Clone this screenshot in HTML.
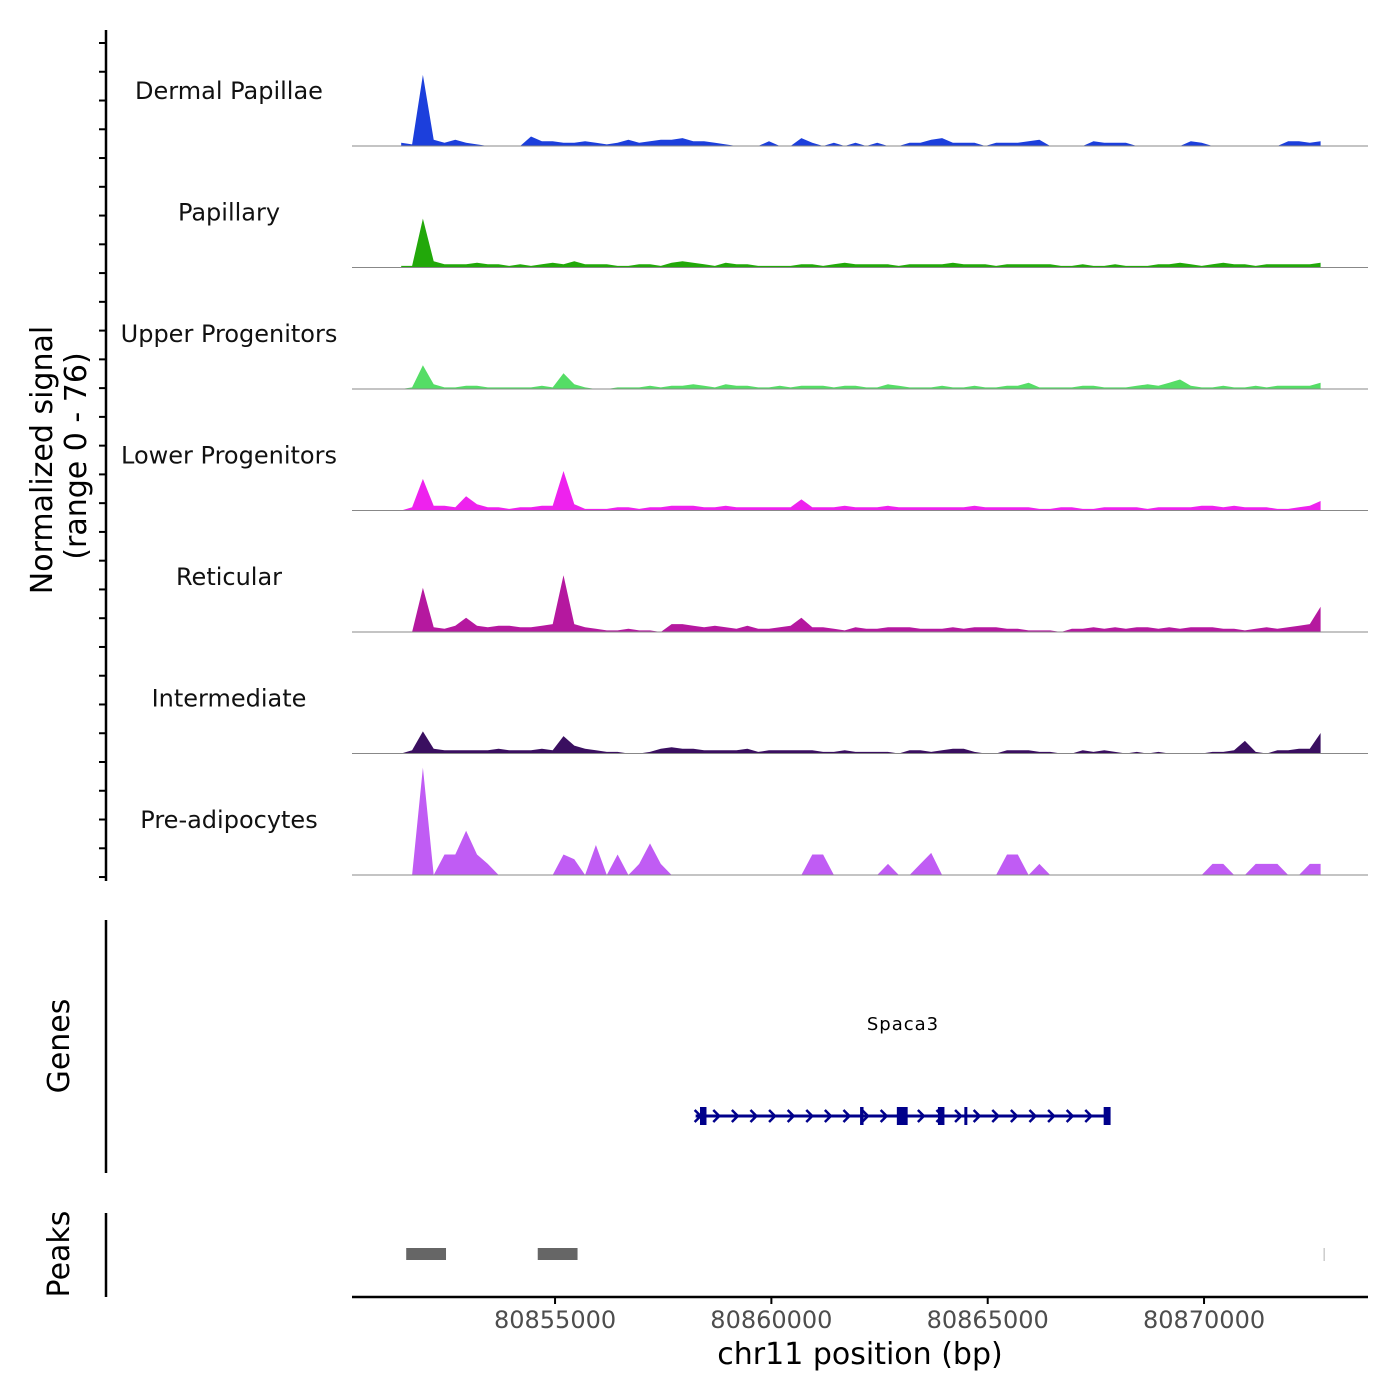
<!DOCTYPE html>
<html><head><meta charset="utf-8"><style>
html,body{margin:0;padding:0;background:#fff;}
svg{display:block;font-family:"DejaVu Sans","Liberation Sans",sans-serif;}
</style></head><body>
<svg id="chart" width="1400" height="1400" viewBox="0 0 1400 1400" xmlns="http://www.w3.org/2000/svg">
<g id="tracks"></g>
<g id="axes"></g>
<text transform="translate(52,460) rotate(-90)" text-anchor="middle" font-size="30" fill="#000">Normalized signal</text>
<text transform="translate(86,456) rotate(-90)" text-anchor="middle" font-size="30" fill="#000">(range 0 - 76)</text>
<text transform="translate(69,1046) rotate(-90)" text-anchor="middle" font-size="30" fill="#000">Genes</text>
<text transform="translate(69,1254) rotate(-90)" text-anchor="middle" font-size="30" fill="#000">Peaks</text>
<text x="903" y="1030" text-anchor="middle" font-size="18" fill="#000" letter-spacing="1">Spaca3</text>
<text x="860" y="1364" text-anchor="middle" font-size="30" fill="#000">chr11 position (bp)</text>
</svg>
<script>
const trackNames = ["Dermal Papillae","Papillary","Upper Progenitors","Lower Progenitors","Reticular","Intermediate","Pre-adipocytes"];
const trackColors = ["#1c3fdc","#22a80a","#55dd66","#ee22ee","#b5189f","#3a0f60","#c05cf4"];
const binStart = 80851320;
const binSize = 250;
const dermal = [2,1,45,4,2,4,2,1,0,0, 0,0,6,3,3,2,2,3,2,1, 2,4,2,3,4,4,5,3,3,2, 1,0,0,0,3,0,0,5,2,0, 2,0,2,0,2,0,0,2,2,4, 5,2,2,2,0,2,2,2,3,4, 0,0,0,0,3,2,2,2,0,0, 0,0,0,3,2,0,0,0,0,0, 0,0,3,3,2,3];
const papillary = [1,1,31,4,2,2,2,3,2,2, 1,2,1,2,3,2,4,2,2,2, 1,1,2,2,1,3,4,3,2,1, 3,2,2,1,1,1,1,2,2,1, 2,3,2,2,2,2,1,2,2,2, 2,3,2,2,2,1,2,2,2,2, 2,1,1,2,1,1,2,1,1,1, 2,2,3,2,1,2,3,2,2,1, 2,2,2,2,2,3];
const upper = [0,1,15,3,1,1,2,2,1,1, 1,1,1,2,1,10,3,1,0,0, 1,1,1,2,1,2,2,3,2,1, 3,2,2,1,1,2,1,2,2,2, 1,2,2,1,1,3,2,1,1,1, 2,1,1,2,1,1,2,2,4,1, 1,1,1,2,2,1,1,1,2,3, 2,4,6,2,1,1,2,1,1,2, 1,2,2,2,2,4];
const lower = [0,2,20,3,3,2,9,4,2,2, 1,2,2,3,3,25,4,1,1,1, 2,2,1,2,2,3,3,3,2,2, 3,2,2,2,2,2,2,7,2,2, 2,3,2,2,2,3,2,2,2,2, 2,2,2,3,2,2,2,2,2,1, 1,2,2,1,1,2,2,2,2,1, 2,2,2,2,3,3,2,3,2,2, 2,1,1,2,3,6];
const reticular = [0,0,28,3,2,4,9,4,3,4, 4,3,3,4,5,36,5,3,2,1, 1,2,1,1,0,5,5,4,3,4, 3,2,4,2,2,3,4,9,3,3, 2,1,3,2,2,3,3,3,2,2, 2,3,2,3,3,3,2,2,1,1, 1,0,2,2,3,2,3,2,3,3, 2,3,2,3,3,3,2,2,1,2, 3,2,3,4,5,16];
const intermediate = [0,2,14,3,2,2,2,2,2,3, 2,2,2,3,2,11,5,3,2,1, 1,0,0,1,3,4,3,3,2,2, 2,2,3,1,2,2,2,2,2,1, 1,2,1,1,1,1,0,2,2,1, 2,3,3,1,0,0,2,2,2,1, 1,0,0,2,1,2,1,0,1,0, 1,0,0,0,0,1,1,2,8,1, 0,2,2,3,3,13];
const preadipo = [0,0,68,0,13,13,28,13,7,0, 0,0,0,0,0,13,10,0,19,0, 13,0,7,20,7,0,0,0,0,0, 0,0,0,0,0,0,0,0,13,13, 0,0,0,0,0,7,0,0,7,14, 0,0,0,0,0,0,13,13,0,7, 0,0,0,0,0,0,0,0,0,0, 0,0,0,0,0,7,7,0,0,7, 7,7,0,0,7,7];
const trackData = [dermal,papillary,upper,lower,reticular,intermediate,preadipo];
const xTicks = [80855000,80860000,80865000,80870000];
const peakStarts = [80851560,80854600,80872760];
const peakEnds = [80852480,80855520,80872790];
const exonStarts = [80858350,80862050,80862900,80863850,80864460,80867680];
const exonEnds = [80858500,80862130,80863150,80864000,80864510,80867840];
const geneStart = 80858250, geneEnd = 80867800;

const NS='http://www.w3.org/2000/svg';
const X0=352, X1=1368, BP0=80850307, PXPB=0.043266;
const xs = bp => X0 + (bp-BP0)*PXPB;
const baseY = i => 146 + i*121.5;
const ys = (i,v) => baseY(i) - v*120/76;
function mk(tag, attrs, parent){const e=document.createElementNS(NS,tag);for(const k in attrs)e.setAttribute(k,attrs[k]);parent.appendChild(e);return e;}
const tracks=document.getElementById('tracks'), axes=document.getElementById('axes');

trackData.forEach((arr,i)=>{
  const g=mk('g',{},tracks);
  
  
  let d='M'+xs(binStart+binSize*0.5).toFixed(1)+','+baseY(i);
  arr.forEach((v,j)=>{d+=' L'+xs(binStart+(j+0.5)*binSize).toFixed(1)+','+ys(i,v).toFixed(1);});
  d+=' L'+xs(binStart+(arr.length-0.5)*binSize).toFixed(1)+','+baseY(i)+' Z';
  const p=mk('path',{d:d,fill:trackColors[i]},g);
  
  
  const bl=mk('line',{x1:X0,x2:X1,y1:baseY(i),y2:baseY(i),stroke:'#888','stroke-width':1},g);
  
  
  const t=mk('text',{x:229,y:baseY(i)-47,'text-anchor':'middle','font-size':24,fill:'#111'},g);
  t.textContent=trackNames[i];
  
  
});

let l=mk('line',{x1:106,x2:106,y1:30,y2:881,stroke:'#000','stroke-width':2.5},axes);


for(let k=0;k<30;k++){const y=43+k*28.76;const t=mk('line',{x1:99,x2:106,y1:y,y2:y,stroke:'#000','stroke-width':2},axes);
  
  }
l=mk('line',{x1:106,x2:106,y1:920,y2:1173,stroke:'#000','stroke-width':2.5},axes);


l=mk('line',{x1:106,x2:106,y1:1213,y2:1297,stroke:'#000','stroke-width':2.5},axes);



const gg=mk('g',{},axes);


mk('line',{x1:xs(geneStart),x2:xs(geneEnd),y1:1116,y2:1116,stroke:'#00008b','stroke-width':3},gg);
for(let x=xs(geneStart)+2;x<xs(geneEnd)-8;x+=18.6){
  mk('polyline',{points:(x-3)+',1110 '+(x+3)+',1116 '+(x-3)+',1122',fill:'none',stroke:'#00008b','stroke-width':2.5},gg);
}
exonStarts.forEach((s,k)=>{
  const x=xs(s),w=Math.max(3,xs(exonEnds[k])-x);
  const r=mk('rect',{x:x,y:1107,width:w,height:18,fill:'#00008b'},gg);
  
  
});

peakStarts.forEach((s,k)=>{
  const last=k===peakStarts.length-1;
  const r=mk('rect',{x:xs(s),y:1248,width:Math.max(1.5,xs(peakEnds[k])-xs(s)),height:last?13:12,fill:last?'#ccc':'#666'},axes);
  
  
});

l=mk('line',{x1:X0,x2:X1,y1:1297,y2:1297,stroke:'#000','stroke-width':2.5},axes);


xTicks.forEach(v=>{
  const x=xs(v);
  const t=mk('line',{x1:x,x2:x,y1:1297,y2:1304,stroke:'#000','stroke-width':2},axes);
  
  
  const lb=mk('text',{x:x,y:1328,'text-anchor':'middle','font-size':24,fill:'#4d4d4d'},axes);
  lb.textContent=String(v);
  
  
});
</script>
</body></html>
